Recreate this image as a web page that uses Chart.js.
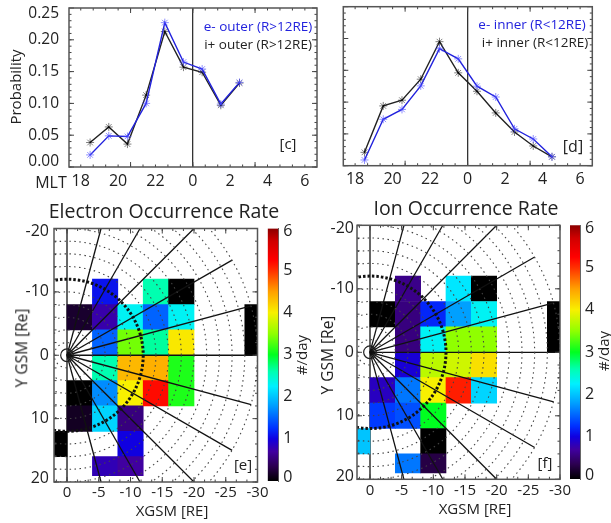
<!DOCTYPE html>
<html>
<head>
<meta charset="utf-8">
<title>Occurrence rate</title>
<script src="https://cdn.jsdelivr.net/npm/chart.js@4"></script>
<style>
html, body { margin: 0; padding: 0; background: #fff; }
#page { position: relative; width: 611px; height: 523px; overflow: hidden; }
canvas { position: absolute; }
.lbl { position: absolute; transform: translate(-50%, -50%); white-space: nowrap; font-family: "Open Sans", sans-serif; color: #222; line-height: 1; }
</style>
</head>
<body>
<div id="page"></div>
<script>
const FONT = '"Open Sans", sans-serif';

// panels c, d: MLT in hours around midnight
const mltTickLabels = ['18', '20', '22', '0', '2', '4', '6'];
const probTickLabels = ['0.00', '0.05', '0.10', '0.15', '0.20', '0.25'];

const outerMlt = [-5.5, -4.5, -3.5, -2.5, -1.5, -0.5, 0.5, 1.5, 2.5];
const outerElectron = [0.019, 0.049, 0.048, 0.100, 0.227, 0.165, 0.154, 0.099, 0.133];
const outerIon = [0.0385, 0.063, 0.036, 0.113, 0.213, 0.157, 0.149, 0.097, 0.132];

const innerMlt = [-5.5, -4.5, -3.5, -2.5, -1.5, -0.5, 0.5, 1.5, 2.5, 3.5, 4.5];
const innerElectron = [0.009, 0.073, 0.0885, 0.1255, 0.184, 0.168, 0.125, 0.108, 0.058, 0.042, 0.014];
const innerIon = [0.021, 0.094, 0.103, 0.136, 0.195, 0.146, 0.117, 0.083, 0.053, 0.031, 0.014];

// panels e, f: cells are 4 RE wide, x is the column centre
const eCellX  = [-2, -2, -2, 2, -6, -6, -6, -6, -6, -6, -6, -10, -10, -10, -10, -10, -10, -10, -14, -14, -14, -14, -14, -18, -18, -18, -18, -18, -30];
const eCellLo = [-8, 4, 8, 12, -12, -8, -4, 0, 4, 8, 16, -8, -4, 0, 4, 8, 12, 16, -12, -8, -4, 0, 4, -12, -8, -4, 0, 4, -8];
const eCellHi = [-4, 8, 12, 16, -8, -4, 0, 4, 8, 12, 19, -4, 0, 4, 8, 12, 16, 19, -8, -4, 0, 4, 8, -8, -4, 0, 4, 8, 0];
const eCellRate = [0.2, 0, 0.15, 0, 1.1, 0.75, 1.5, 2.6, 1.7, 2.1, 0.8, 2.3, 3.4, 4.35, 4.0, 0.55, 1.0, 0.7, 2.6, 1.5, 2.65, 4.4, 5.2, 0, 2.3, 4.05, 3.1, 3.1, 0];

const iCellX  = [-2, -2, -2, 2, -6, -6, -6, -6, -6, -6, -6, -10, -10, -10, -10, -10, -10, -10, -14, -14, -14, -14, -14, -18, -18, -18, -18, -18, -30];
const iCellLo = [-8, 4, 8, 12, -12, -8, -4, 0, 4, 8, 16, -8, -4, 0, 4, 8, 12, 16, -12, -8, -4, 0, 4, -12, -8, -4, 0, 4, -8];
const iCellHi = [-4, 8, 12, 16, -8, -4, 0, 4, 8, 12, 19, -4, 0, 4, 8, 12, 16, 19, -8, -4, 0, 4, 8, -8, -4, 0, 4, 8, 0];
const iCellRate = [0, 0.85, 1.3, 2.0, 0.6, 0.55, 0.55, 0.95, 1.6, 1.4, 1.6, 1.2, 2.3, 3.7, 4.0, 3.0, 0, 0.3, 2.2, 1.8, 3.5, 3.8, 5.1, 0, 2.3, 3.5, 4.1, 2.1, 0];

// sector boundaries, origin to end point
const spokeX = [-5.36, -11.5, -20, -26, -29, -30, -29, -26, -20, -11.5, -5.36];
const spokeY = [-20, -20, -20, -15, -7.8, 0, 7.8, 15, 20, 20, 20];
const ringRadii = [2, 4, 6, 8, 10, 12, 14, 16, 18, 20, 22, 24, 26, 28, 30];

// rainbow colour table
const rateStops = [0, 0.35, 0.7, 1, 1.25, 1.8, 2.25, 2.6, 3, 3.5, 4, 4.5, 5, 5.25, 5.7, 6];
const rateColors = ['#000000', '#2c0050', '#4000a0', '#1000e0', '#0030ff', '#00a0ff', '#00f0ff', '#00ffb0', '#00ff20', '#90ff00', '#f8f000', '#ffa000', '#ff3000', '#ff0000', '#d00000', '#8b0000'];

function hexToRgb(h) {
    return [1, 3, 5].map(i => parseInt(h.slice(i, i + 2), 16));
}

function rateColor(v) {
    let i = 0;
    while (i < rateStops.length - 2 && v > rateStops[i + 1]) i++;
    const t = (v - rateStops[i]) / (rateStops[i + 1] - rateStops[i]);
    const a = hexToRgb(rateColors[i]);
    const b = hexToRgb(rateColors[i + 1]);
    return `rgb(${a.map((c, k) => Math.round(c + (b[k] - c) * t)).join(',')})`;
}

// inward tick marks and the box round the plot
const framePlugin = {
    id: 'frame',
    afterDraw(chart, args, opts) {
        if (!opts.xMajor) return;
        const { ctx, chartArea: a, scales } = chart;
        const mark = (scale, step, len, horizontal) => {
            const lo = Math.min(scale.min, scale.max);
            const hi = Math.max(scale.min, scale.max);
            for (let v = Math.ceil(lo / step) * step; v <= hi; v += step) {
                const p = scale.getPixelForValue(v);
                if (horizontal) {
                    ctx.moveTo(p, a.bottom); ctx.lineTo(p, a.bottom - len);
                    ctx.moveTo(p, a.top); ctx.lineTo(p, a.top + len);
                } else {
                    ctx.moveTo(a.left, p); ctx.lineTo(a.left + len, p);
                    ctx.moveTo(a.right, p); ctx.lineTo(a.right - len, p);
                }
            }
        };
        ctx.save();
        ctx.strokeStyle = '#444';
        ctx.lineWidth = 1;
        ctx.beginPath();
        mark(scales.x, opts.xMajor, 5, true);
        mark(scales.x, opts.xMinor, 2.5, true);
        mark(scales.y, opts.yMajor, 5, false);
        mark(scales.y, opts.yMinor, 2.5, false);
        ctx.stroke();
        ctx.lineWidth = 1.5;
        ctx.strokeStyle = '#555';
        ctx.strokeRect(a.left, a.top, a.right - a.left, a.bottom - a.top);
        ctx.restore();
    }
};

// dotted range rings, drawn over the cells
const ringsPlugin = {
    id: 'rings',
    afterDatasetsDraw(chart, args, opts) {
        if (!opts.radii) return;
        const { ctx, chartArea: a, scales: { x, y } } = chart;
        const cx = x.getPixelForValue(0);
        const cy = y.getPixelForValue(0);
        ctx.save();
        ctx.beginPath();
        ctx.rect(a.left, a.top, a.right - a.left, a.bottom - a.top);
        ctx.clip();
        for (const r of opts.radii) {
            const rx = Math.abs(x.getPixelForValue(r) - cx);
            const ry = Math.abs(y.getPixelForValue(r) - cy);
            ctx.strokeStyle = r === 12 ? '#111' : '#444';
            ctx.lineWidth = r === 12 ? 3 : 1.1;
            ctx.setLineDash(r === 12 ? [2.5, 2] : [1.5, 3.5]);
            ctx.beginPath();
            ctx.ellipse(cx, cy, rx, ry, 0, 0, Math.PI * 2);
            ctx.stroke();
        }
        ctx.setLineDash([]);
        ctx.strokeStyle = '#222';
        ctx.lineWidth = 1.2;
        ctx.beginPath();
        ctx.ellipse(cx, cy, Math.abs(x.getPixelForValue(1) - cx), Math.abs(y.getPixelForValue(1) - cy), 0, 0, Math.PI * 2);
        ctx.stroke();
        ctx.restore();
    }
};

Chart.register(framePlugin, ringsPlugin);

function makeCanvas(box) {
    const c = document.createElement('canvas');
    c.width = box.w;
    c.height = box.h;
    c.style.left = box.x + 'px';
    c.style.top = box.y + 'px';
    document.getElementById('page').appendChild(c);
    return c;
}

// pin the plot area to page pixels: area = {l, t, r, b}
function padding(box, area, axisW) {
    return { left: area.l - box.x - axisW, top: area.t - box.y, right: box.x + box.w - area.r, bottom: 0 };
}

function fixSize(prop, size) {
    return s => {
        s[prop] = size;
        s.paddingTop = s.paddingBottom = s.paddingLeft = s.paddingRight = 0;
    };
}

function probPanel(box, area, xs, electron, ion, showY, yTickPad, xTickPad) {
    const toPoints = vals => vals.map((v, i) => ({ x: xs[i], y: v }));
    const axisW = area.l - box.x;
    new Chart(makeCanvas(box), {
        type: 'line',
        data: {
            datasets: [
                { label: 'e-', data: toPoints(electron), borderColor: '#2222dd', borderWidth: 1.4, pointStyle: 'star', pointRadius: 4, pointBorderWidth: 1, pointBorderColor: 'rgba(70,70,255,0.6)', tension: 0 },
                { label: 'i+', data: toPoints(ion), borderColor: '#222', borderWidth: 1.4, pointStyle: 'star', pointRadius: 4, pointBorderWidth: 1, pointBorderColor: 'rgba(0,0,0,0.5)', tension: 0 },
            ]
        },
        options: {
            responsive: false,
            animation: false,
            layout: { padding: padding(box, area, axisW) },
            plugins: {
                legend: { display: false },
                tooltip: { enabled: false },
                frame: { xMajor: 10 / 3, xMinor: 2 / 3, yMajor: 0.05, yMinor: 0.01 },
            },
            scales: {
                x: {
                    type: 'linear', min: -6.63, max: 6.65,
                    afterFit: fixSize('height', box.y + box.h - area.b),
                    border: { display: false },
                    grid: { drawTicks: false, lineWidth: 1.3, color: c => (c.tick && c.tick.value === 0 ? '#333' : 'transparent') },
                    ticks: {
                        stepSize: 2, includeBounds: false, maxRotation: 0, autoSkip: false, padding: xTickPad,
                        color: '#222', font: { family: FONT, size: 16 },
                        callback: (v, i) => mltTickLabels[i],
                    },
                },
                y: {
                    min: 0, max: 0.25,
                    afterFit: fixSize('width', axisW),
                    border: { display: false },
                    grid: { display: false, drawTicks: false },
                    ticks: {
                        display: showY, stepSize: 0.05, includeBounds: false, padding: yTickPad,
                        color: '#222', font: { family: FONT, size: 15.5, lineHeight: 0.75 },
                        callback: (v, i) => {
                            if (i === 0) return [probTickLabels[i], ''];
                            if (i === probTickLabels.length - 1) return ['', probTickLabels[i]];
                            return probTickLabels[i];
                        },
                    },
                },
            },
        },
    });
}

function ratePanel(box, area, cellX, cellLo, cellHi, cellRate, yTickPad, xTickPad) {
    const axisW = area.l - box.x;
    const cellW = (area.r - area.l) * 4 / 32.05;
    const spokes = spokeX.map((sx, i) => ({
        type: 'line', order: 0, borderColor: '#111', borderWidth: 1.3, pointRadius: 0,
        data: [{ x: 0, y: 0 }, { x: sx, y: spokeY[i] }],
    }));
    new Chart(makeCanvas(box), {
        type: 'bar',
        data: {
            datasets: [{
                order: 1,
                data: cellX.map((x, i) => ({ x, y: [cellLo[i], cellHi[i]] })),
                backgroundColor: c => rateColor(cellRate[c.dataIndex]),
                barThickness: cellW,
                borderWidth: 0,
            }, ...spokes]
        },
        options: {
            responsive: false,
            animation: false,
            layout: { padding: padding(box, area, axisW) },
            plugins: {
                legend: { display: false },
                tooltip: { enabled: false },
                frame: { xMajor: 5, xMinor: 5 / 3, yMajor: 10, yMinor: 2 },
                rings: { radii: ringRadii },
            },
            scales: {
                x: {
                    type: 'linear', reverse: true, min: -30, max: 2.05, offset: false,
                    afterFit: fixSize('height', box.y + box.h - area.b),
                    border: { display: false },
                    grid: { offset: false, drawTicks: false, lineWidth: 2, color: c => (c.tick && c.tick.value === 0 ? '#666' : 'transparent') },
                    ticks: {
                        stepSize: 5, includeBounds: false, maxRotation: 0, autoSkip: false, padding: xTickPad,
                        color: '#222', font: { family: FONT, size: 15 },
                    },
                },
                y: {
                    reverse: true, min: -20, max: 20,
                    afterFit: fixSize('width', axisW),
                    border: { display: false },
                    grid: { display: false, drawTicks: false },
                    ticks: {
                        stepSize: 10, includeBounds: false, padding: yTickPad,
                        color: '#222', font: { family: FONT, size: 16, lineHeight: 0.4 },
                        callback: v => {
                            if (v === -20) return ['', '-20'];
                            if (v === 20) return ['20', ''];
                            return String(v);
                        },
                    },
                },
            },
        },
    });
}

function colorBar(box, area) {
    new Chart(makeCanvas(box), {
        type: 'bar',
        data: {
            labels: ['#/day'],
            datasets: [{
                data: [[0, 6]],
                categoryPercentage: 1,
                barPercentage: 1,
                borderWidth: 0,
                backgroundColor: c => {
                    const { ctx, chartArea, scales } = c.chart;
                    if (!chartArea) return '#000';
                    const g = ctx.createLinearGradient(0, scales.y.getPixelForValue(0), 0, scales.y.getPixelForValue(6));
                    rateStops.forEach((v, i) => g.addColorStop(v / 6, rateColors[i]));
                    return g;
                },
            }]
        },
        options: {
            responsive: false,
            animation: false,
            layout: { padding: { left: area.l - box.x, top: area.t - box.y, right: 0, bottom: box.y + box.h - area.b } },
            plugins: {
                legend: { display: false },
                tooltip: { enabled: false },
            },
            scales: {
                x: { display: false },
                y: {
                    position: 'right', min: 0, max: 6,
                    afterFit: fixSize('width', box.x + box.w - area.r),
                    border: { color: '#666', width: 1 },
                    grid: { display: false, drawTicks: false },
                    ticks: {
                        stepSize: 1, padding: 5,
                        color: '#222', font: { family: FONT, size: 16, lineHeight: 0.4 },
                        callback: v => {
                            if (v === 6) return ['', '6'];
                            if (v === 0) return ['0', ''];
                            return String(v);
                        },
                    },
                },
            },
        },
    });
}

// free text round the plots: text, centre x, centre y, size, colour, rotation
const annotations = [
    ['Probability', 15, 87, 15, '#222', -90],
    ['MLT', 51, 182, 16, '#222', 0],
    ['e- outer (R>12RE)', 258, 27, 13.5, '#2222dd', 0],
    ['i+ outer (R>12RE)', 258, 45, 13.5, '#222', 0],
    ['[c]', 288, 143, 15, '#222', 0],
    ['e- inner (R<12RE)', 532, 25, 13.5, '#2222dd', 0],
    ['i+ inner (R<12RE)', 535, 43, 13.5, '#222', 0],
    ['[d]', 573, 146, 16, '#222', 0],
    ['Electron Occurrence Rate', 164, 211, 19.5, '#222', 0],
    ['Ion Occurrence Rate', 466, 208, 19.5, '#222', 0],
    ['Y GSM [Re]', 22, 348, 15.5, '#222', -90],
    ['Y GSM [Re]', 328, 355, 15.5, '#222', -90],
    ['XGSM [RE]', 172, 510, 15, '#222', 0],
    ['XGSM [RE]', 475, 508, 15, '#222', 0],
    ['#/day', 301, 355, 15, '#222', -90],
    ['#/day', 603, 351, 15, '#222', -90],
    ['[e]', 243, 464, 15, '#222', 0],
    ['[f]', 545, 462, 15, '#222', 0],
];

function addLabels() {
    const page = document.getElementById('page');
    for (const [text, x, y, size, color, rot] of annotations) {
        const d = document.createElement('div');
        d.className = 'lbl';
        d.textContent = text;
        d.style.left = x + 'px';
        d.style.top = y + 'px';
        d.style.fontSize = size + 'px';
        d.style.color = color;
        if (rot) d.style.transform = `translate(-50%, -50%) rotate(${rot}deg)`;
        page.appendChild(d);
    }
}

function init() {
    probPanel({ x: 0, y: 0, w: 325, h: 195 }, { l: 69, t: 8, r: 317, b: 167 }, outerMlt, outerElectron, outerIon, true, 10, 5);
    probPanel({ x: 325, y: 0, w: 286, h: 195 }, { l: 343.3, t: 6.7, r: 592.3, b: 165.7 }, innerMlt, innerElectron, innerIon, false, 0, 4);
    ratePanel({ x: 0, y: 215, w: 285, h: 290 }, { l: 54, t: 228.5, r: 257.5, b: 482 }, eCellX, eCellLo, eCellHi, eCellRate, 5, 2);
    ratePanel({ x: 318, y: 212, w: 270, h: 290 }, { l: 357, t: 225.3, r: 560, b: 479.3 }, iCellX, iCellLo, iCellHi, iCellRate, 3, 2);
    colorBar({ x: 260, y: 215, w: 40, h: 280 }, { l: 267.7, t: 228.5, r: 278.3, b: 481 });
    colorBar({ x: 565, y: 212, w: 40, h: 280 }, { l: 570, t: 225.3, r: 580, b: 479 });
    addLabels();
}

document.addEventListener('DOMContentLoaded', init);
</script>
</body>
</html>
